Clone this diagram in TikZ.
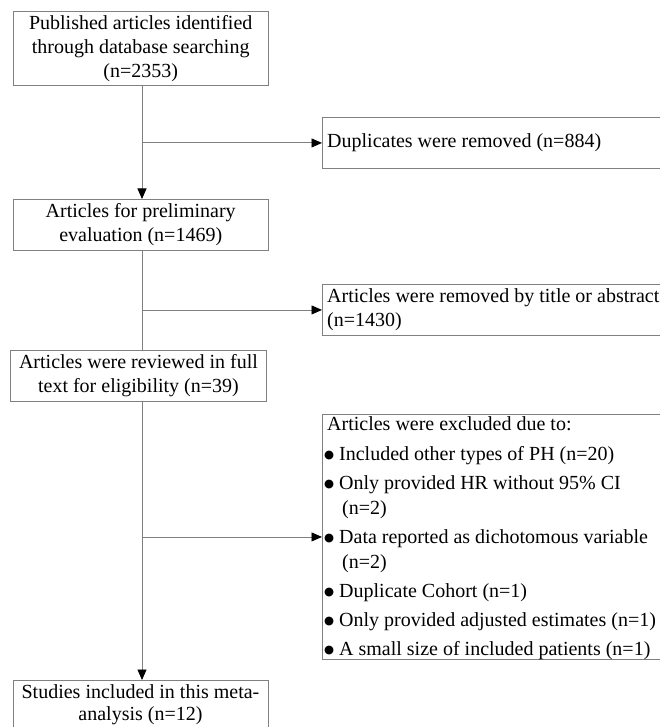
\documentclass[tikz,border=0pt]{standalone}
\usepackage{fontspec}
\setmainfont{Liberation Serif}
\newfontfamily\djv{DejaVu Sans}
\usetikzlibrary{arrows.meta}
\definecolor{lc}{HTML}{808080}
\tikzset{
  box/.style={draw=lc, line width=0.9pt, rectangle, inner sep=0pt, align=center,
    font=\fontsize{20}{24}\selectfont},
  sidebox/.style={draw=lc, line width=0.9pt, rectangle, inner sep=0pt,
    anchor=north west, minimum width=360pt},
  sidetext/.style={anchor=west, inner sep=0pt, align=left,
    font=\fontsize{20}{24}\selectfont},
  flow/.style={draw=lc, line width=0.9pt},
  arr/.style={flow, -{Triangle[length=10.5pt,width=9pt,black]}}
}
\newcommand{\bul}{\makebox[15pt][l]{\raisebox{1.2pt}{\djv\fontsize{11.5}{11.5}\selectfont ●}}}
\begin{document}
\begin{tikzpicture}[x=1pt,y=-1pt]
\useasboundingbox (0,0) rectangle (660,727);
\clip (0,0) rectangle (660,727);
\fill[white] (0,0) rectangle (660,727);
\coordinate (spine) at (142,0);

\node[box, anchor=north west, minimum width=255.5pt, minimum height=73.5pt] (b1) at (12.5,11.5)
  {\rule{0pt}{14pt}Published articles identified\\through database searching\\(n=2353)};
\node[box, anchor=north west, minimum width=255.5pt, minimum height=51pt] (b2) at (12.5,199)
  {Articles for preliminary\\evaluation (n=1469)};
\node[box, anchor=north west, minimum width=256pt, minimum height=51pt] (b3) at (10,350)
  {Articles were reviewed in full\\text for eligibility (n=39)};
\node[box, anchor=north west, minimum width=255.5pt, minimum height=60pt] (b4) at (12.5,680)
  {};
\node[anchor=north, inner sep=0pt, align=center, font=\fontsize{20}{22}\selectfont] (b4t) at (140.5,684)
  {Studies included in this meta-\\analysis (n=12)};

\node[sidebox, minimum height=51pt] (dup) at (322,117) {};
\node[sidetext] (dupt) at (327,142.5) {Duplicates were removed (n=884)};

\node[sidebox, minimum height=51pt] (rem) at (322,284) {};
\node[sidetext] (remt) at (327,309.5) {Articles were removed by title or abstract\\(n=1430)};

\node[sidebox, minimum height=245pt] (exc) at (322,414) {};
\node[sidetext, anchor=north west, font=\fontsize{20}{25}\selectfont] (exct) at (324,416)
  {\hspace*{3pt}Articles were excluded due to:\\[5pt]
   \bul Included other types of PH (n=20)\\[4pt]
   \bul Only provided HR without 95\% CI\\
   \hspace*{18pt}(n=2)\\[4pt]
   \bul Data reported as dichotomous variable\\
   \hspace*{18pt}(n=2)\\[4pt]
   \bul Duplicate Cohort (n=1)\\[4pt]
   \bul Only provided adjusted estimates (n=1)\\[4pt]
   \bul A small size of included patients (n=1)};

\draw[arr] (b1.south -| spine) -- (b2.north -| spine);
\draw[arr] (spine |- dup.west) -- (dup.west);
\draw[flow] (b2.south -| spine) -- (b3.north -| spine);
\draw[arr] (spine |- rem.west) -- (rem.west);
\draw[arr] (b3.south -| spine) -- (b4.north -| spine);
\draw[arr] (spine |- exc.west) -- (exc.west);
\end{tikzpicture}
\end{document}
